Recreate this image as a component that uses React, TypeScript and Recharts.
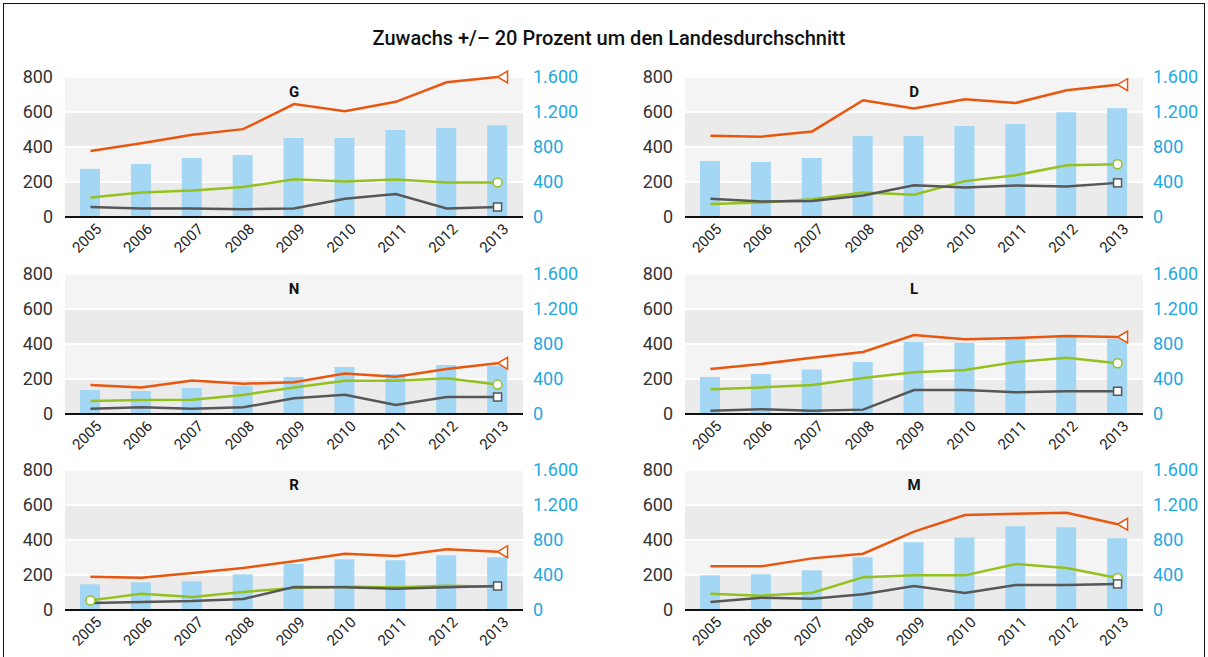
import React from "react";
import { ComposedChart, Bar, Line, XAxis, YAxis, CartesianGrid } from "recharts";

const years = ["2005", "2006", "2007", "2008", "2009", "2010", "2011", "2012", "2013"];
const leftTicks = [0, 200, 400, 600, 800];
const rightTicks = [0, 400, 800, 1200, 1600];

// G
const gBars = [550, 607, 675, 709, 902, 902, 993, 1016, 1050];
const gOrange = [377, 421, 470, 502, 645, 605, 658, 770, 800];
const gGreen = [112, 140, 152, 171, 216, 203, 214, 197, 197];
const gGray = [57, 49, 49, 44, 49, 104, 131, 49, 57];

// D
const dBars = [641, 629, 675, 925, 925, 1039, 1062, 1198, 1244];
const dOrange = [464, 459, 489, 667, 620, 673, 652, 724, 756];
const dGreen = [74, 83, 102, 140, 127, 205, 239, 296, 301];
const dGray = [104, 89, 91, 123, 182, 169, 180, 174, 195];

// N
const nBars = [274, 263, 297, 320, 423, 537, 457, 560, 549];
const nOrange = [166, 152, 192, 173, 181, 232, 213, 257, 290];
const nGreen = [74, 80, 82, 109, 152, 190, 190, 204, 168];
const nGray = [30, 38, 30, 38, 90, 110, 51, 97, 97];

// L
const lBars = [423, 457, 510, 594, 823, 811, 857, 880, 860];
const lOrange = [257, 286, 322, 354, 451, 427, 434, 446, 440];
const lGreen = [141, 152, 166, 206, 238, 251, 297, 322, 290];
const lGray = [19, 27, 19, 25, 137, 137, 124, 130, 130];

// R
const rBars = [293, 316, 328, 408, 526, 579, 568, 625, 602];
const rOrange = [190, 185, 211, 240, 278, 322, 309, 347, 333];
const rGreen = [55, 93, 74, 103, 126, 133, 130, 139, 133];
const rGray = [40, 46, 51, 63, 131, 130, 122, 130, 137];

// M
const mBars = [396, 408, 453, 602, 773, 830, 956, 945, 819];
const mOrange = [250, 250, 295, 322, 448, 543, 550, 556, 490];
const mGreen = [93, 82, 99, 187, 198, 198, 263, 240, 183];
const mGray = [46, 70, 65, 90, 137, 97, 143, 143, 149];

const ORANGE = "#e9570f";
const GREEN = "#95c11f";
const GRAY = "#575757";
const BAR = "#a3d7f4";
const BLUE = "#1ea8e2";
const FONT = "Roboto, 'Noto Sans', sans-serif";

const makeRows = (bars: number[], orange: number[], green: number[], gray: number[]) =>
  years.map((year, i) => ({ year, bar: bars[i], orange: orange[i], green: green[i], gray: gray[i] }));

const panels = [
  { name: "G", rows: makeRows(gBars, gOrange, gGreen, gGray), col: 0, top: 77, greenMark: 8 },
  { name: "D", rows: makeRows(dBars, dOrange, dGreen, dGray), col: 1, top: 77, greenMark: 8 },
  { name: "N", rows: makeRows(nBars, nOrange, nGreen, nGray), col: 0, top: 274, greenMark: 8 },
  { name: "L", rows: makeRows(lBars, lOrange, lGreen, lGray), col: 1, top: 274, greenMark: 8 },
  { name: "R", rows: makeRows(rBars, rOrange, rGreen, rGray), col: 0, top: 470, greenMark: 0 },
  { name: "M", rows: makeRows(mBars, mOrange, mGreen, mGray), col: 1, top: 470, greenMark: 8 },
];

const formatRight = (v: number) =>
  v >= 1000 ? `${Math.floor(v / 1000)}.${String(v % 1000).padStart(3, "0")}` : String(v);

const YearTick = (props: any) => {
  const { x, y, payload } = props;
  return (
    <g transform={`translate(${x + 12},${y + 5})`}>
      <text textAnchor="end" transform="rotate(-45)" fontSize={15} fill="#222" fontFamily={FONT}>
        {payload.value}
      </text>
    </g>
  );
};

const markerDot = (shape: "tri" | "circle" | "square", at: number) => (props: any) => {
  const { cx, cy, index } = props;
  if (index !== at || cx == null) return <g key={`m-${index}`} />;
  if (shape === "tri") {
    return (
      <path
        key={`m-${index}`}
        d={`M${cx},${cy} L${cx + 10},${cy - 6} L${cx + 10},${cy + 6} Z`}
        fill="#fff"
        stroke={ORANGE}
        strokeWidth={1.5}
      />
    );
  }
  if (shape === "circle") {
    return <circle key={`m-${index}`} cx={cx} cy={cy} r={4.5} fill="#fff" stroke={GREEN} strokeWidth={1.5} />;
  }
  return <rect key={`m-${index}`} x={cx - 4} y={cy - 4} width={8} height={8} fill="#fff" stroke={GRAY} strokeWidth={1.5} />;
};

const Panel = ({ panel }: { panel: (typeof panels)[number] }) => {
  const leftW = panel.col === 0 ? 65 : 85;
  const plotW = 458;
  const rightW = panel.col === 0 ? 70 : 65;
  const chartLeft = panel.col === 0 ? 0 : 600;
  return (
    <div style={{ position: "absolute", left: chartLeft, top: panel.top - 17 }}>
      <ComposedChart
        width={leftW + plotW + rightW}
        height={17 + 140 + 45}
        data={panel.rows}
        margin={{ top: 17, right: 0, left: 0, bottom: 0 }}
      >
        <CartesianGrid
          yAxisId="left"
          vertical={false}
          stroke="#fff"
          strokeWidth={2}
          horizontalFill={["#f4f4f4", "#ebebeb"]}
          fillOpacity={1}
        />
        <XAxis
          dataKey="year"
          height={45}
          interval={0}
          tickLine={false}
          axisLine={{ stroke: "#111", strokeWidth: 2 }}
          tick={<YearTick />}
        />
        <YAxis
          yAxisId="left"
          width={leftW}
          domain={[0, 800]}
          ticks={leftTicks}
          interval={0}
          axisLine={false}
          tickLine={false}
          tickMargin={6}
          tick={{ fontSize: 18, fill: "#333", fontFamily: FONT }}
        />
        <YAxis
          yAxisId="right"
          orientation="right"
          width={rightW}
          domain={[0, 1600]}
          ticks={rightTicks}
          interval={0}
          axisLine={false}
          tickLine={false}
          tickMargin={4}
          tickFormatter={formatRight}
          tick={{ fontSize: 18, fill: BLUE, fontFamily: FONT, textAnchor: "start" }}
        />
        <Bar yAxisId="right" dataKey="bar" fill={BAR} barSize={20} isAnimationActive={false} />
        <Line
          yAxisId="left"
          dataKey="orange"
          stroke={ORANGE}
          strokeWidth={2.5}
          dot={markerDot("tri", 8)}
          activeDot={false}
          isAnimationActive={false}
        />
        <Line
          yAxisId="left"
          dataKey="green"
          stroke={GREEN}
          strokeWidth={2.5}
          dot={markerDot("circle", panel.greenMark)}
          activeDot={false}
          isAnimationActive={false}
        />
        <Line
          yAxisId="left"
          dataKey="gray"
          stroke={GRAY}
          strokeWidth={2.5}
          dot={markerDot("square", 8)}
          activeDot={false}
          isAnimationActive={false}
        />
      </ComposedChart>
      <div
        style={{
          position: "absolute",
          left: leftW,
          width: plotW,
          top: 17 + 6,
          textAlign: "center",
          fontFamily: FONT,
          fontWeight: 700,
          fontSize: 15,
          color: "#111",
        }}
      >
        {panel.name}
      </div>
    </div>
  );
};

export default function App() {
  return (
    <div
      style={{
        position: "absolute",
        left: 0,
        top: 0,
        width: 1208,
        height: 657,
        background: "#fff",
        overflow: "hidden",
        fontFamily: FONT,
      }}
    >
      <div
        style={{
          position: "absolute",
          left: 3,
          top: 3,
          width: 1202,
          height: 700,
          border: "1.5px solid #111",
          boxSizing: "border-box",
        }}
      />
      <div
        style={{
          position: "absolute",
          left: 0,
          width: 1218,
          top: 26,
          textAlign: "center",
          fontSize: 20,
          fontWeight: 500,
          color: "#111",
        }}
      >
        Zuwachs +/– 20 Prozent um den Landesdurchschnitt
      </div>
      {panels.map((p) => (
        <Panel key={p.name} panel={p} />
      ))}
    </div>
  );
}
